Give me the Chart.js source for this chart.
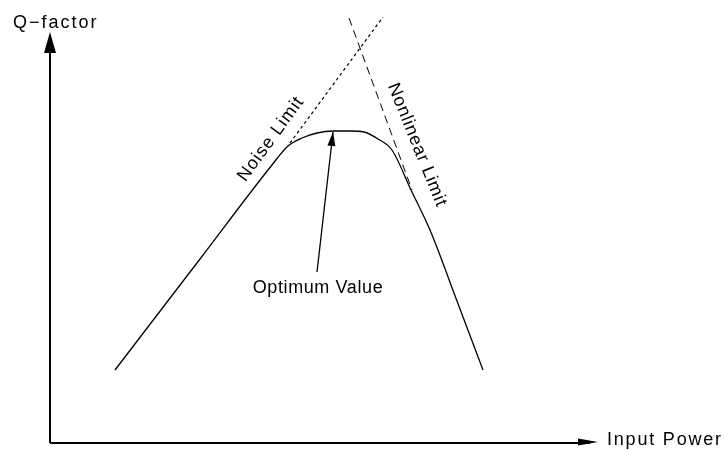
<!DOCTYPE html>
<html>
<head>
<meta charset="utf-8">
<script src="https://cdn.jsdelivr.net/npm/chart.js@4"></script>
<style>
  html, body { margin: 0; padding: 0; background: #fff; }
  #wrap { width: 725px; height: 450px; position: relative; }
</style>
</head>
<body>
<div id="wrap"><canvas id="myChart"></canvas></div>
<script>
// Q-factor curve vs input power (schematic, arbitrary units)
const curveX = [65, 150, 220, 238, 252, 267, 283, 300, 314, 328, 342, 361, 380, 407, 433];
const curveY = [73, 184, 275.5, 297, 305, 310, 312, 312, 311, 304, 293, 253, 213, 142, 73];

// asymptotes
const noiseX = [240, 333];
const noiseY = [300, 426];
const nonlinX = [299, 362];
const nonlinY = [425, 253];

// arrow to the optimum
const arrowX = [267, 283];
const arrowY = [171, 311];

const xLabel = 'Input Power';
const yLabel = 'Q\u2212factor';

function pts(xs, ys) {
  return xs.map((x, i) => ({ x: x, y: ys[i] }));
}

const FONT = '18px "Liberation Sans", Arial, sans-serif';

// rotated labels, placed in data units
const labels = [
  { text: 'Noise Limit', x: 221, y: 304, angle: -54, sp: 1 },
  { text: 'Nonlinear Limit', x: 367, y: 298, angle: 68, sp: 0.8 },
  { text: 'Optimum Value', x: 268, y: 155, angle: 0, sp: 0.6 }
];

function head(ctx, x1, y1, x2, y2, len, half) {
  const a = Math.atan2(y2 - y1, x2 - x1);
  ctx.beginPath();
  ctx.moveTo(x2, y2);
  ctx.lineTo(x2 - len * Math.cos(a) + half * Math.sin(a), y2 - len * Math.sin(a) - half * Math.cos(a));
  ctx.lineTo(x2 - len * Math.cos(a) - half * Math.sin(a), y2 - len * Math.sin(a) + half * Math.cos(a));
  ctx.closePath();
  ctx.fill();
}

const sketch = {
  id: 'sketch',
  afterDatasetsDraw(chart) {
    const ctx = chart.ctx;
    const xs = chart.scales.x, ys = chart.scales.y;
    const ox = xs.getPixelForValue(0), oy = ys.getPixelForValue(0);
    const xEnd = xs.getPixelForValue(xs.max);
    const yEnd = ys.getPixelForValue(411);
    ctx.save();
    ctx.strokeStyle = '#000';
    ctx.fillStyle = '#000';
    ctx.lineWidth = 2;
    // axes
    ctx.beginPath();
    ctx.moveTo(ox, oy);
    ctx.lineTo(ox, yEnd + 10);
    ctx.moveTo(ox, oy);
    ctx.lineTo(xEnd - 8, oy);
    ctx.stroke();
    head(ctx, ox, oy, ox, yEnd, 21, 6);
    head(ctx, ox, oy, xEnd, oy - 1, 20, 3.5);
    // optimum arrow head
    const ax1 = xs.getPixelForValue(arrowX[0]), ay1 = ys.getPixelForValue(arrowY[0]);
    const ax2 = xs.getPixelForValue(arrowX[1]), ay2 = ys.getPixelForValue(arrowY[1]);
    head(ctx, ax1, ay1, ax2, ay2, 14, 4);
    // texts
    ctx.font = FONT;
    ctx.textBaseline = 'alphabetic';
    ctx.textAlign = 'left';
    ctx.letterSpacing = '2px';
    ctx.fillText(yLabel, 13, 28);
    ctx.letterSpacing = '1.8px';
    ctx.fillText(xLabel, xEnd + 9, oy + 2);
    ctx.textAlign = 'center';
    ctx.textBaseline = 'middle';
    labels.forEach(l => {
      ctx.save();
      ctx.letterSpacing = l.sp + 'px';
      ctx.translate(xs.getPixelForValue(l.x), ys.getPixelForValue(l.y));
      ctx.rotate(l.angle * Math.PI / 180);
      ctx.fillText(l.text, 0, 0);
      ctx.restore();
    });
    ctx.restore();
  }
};

const config = {
  type: 'scatter',
  data: {
    datasets: [
      {
        label: 'Q-factor',
        data: pts(curveX, curveY),
        showLine: true,
        borderColor: '#000',
        borderWidth: 1.3,
        pointRadius: 0,
        cubicInterpolationMode: 'monotone'
      },
      {
        label: 'Noise Limit',
        data: pts(noiseX, noiseY),
        showLine: true,
        borderColor: '#000',
        borderWidth: 1.2,
        borderDash: [3, 3],
        pointRadius: 0
      },
      {
        label: 'Nonlinear Limit',
        data: pts(nonlinX, nonlinY),
        showLine: true,
        borderColor: '#000',
        borderWidth: 1,
        borderDash: [8, 5],
        pointRadius: 0
      },
      {
        label: 'Optimum Value',
        data: pts(arrowX, arrowY),
        showLine: true,
        borderColor: '#000',
        borderWidth: 1.3,
        pointRadius: 0
      }
    ]
  },
  options: {
    responsive: true,
    maintainAspectRatio: false,
    animation: false,
    layout: { padding: { left: 50, right: 127, top: 10, bottom: 7 } },
    scales: {
      x: { type: 'linear', min: 0, max: 548, display: false },
      y: { type: 'linear', min: 0, max: 433, display: false }
    },
    plugins: {
      legend: { display: false },
      tooltip: { enabled: false }
    }
  },
  plugins: [sketch]
};

var myChart = new Chart(document.getElementById('myChart'), config);
</script>
</body>
</html>
